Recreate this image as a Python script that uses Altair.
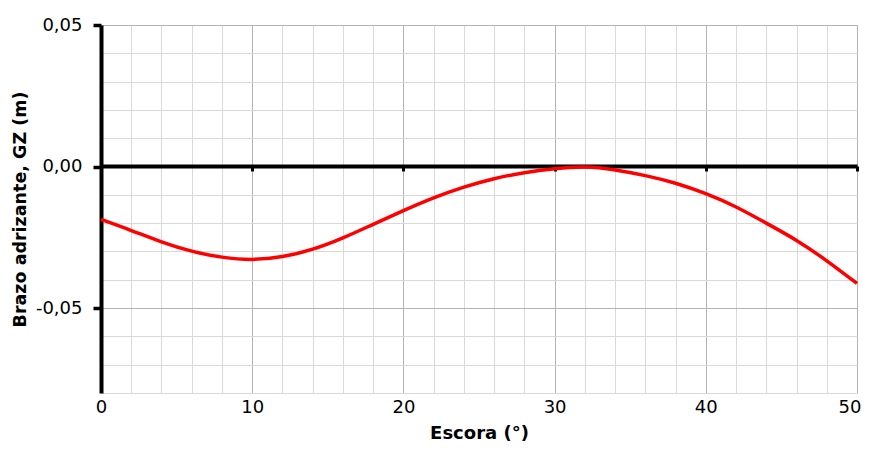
import altair as alt
import pandas as pd

# Data
escora = [0, 2, 4, 6, 8, 10, 12, 14, 16, 18, 20, 22, 24, 26, 28, 30,
          32, 34, 36, 38, 40, 42, 44, 46, 48, 50]
gz = [-0.0187, -0.0226, -0.0266, -0.0299, -0.0320, -0.0328, -0.0318, -0.0292,
      -0.0252, -0.0204, -0.0156, -0.0111, -0.0073, -0.0043, -0.0022, -0.0008,
      -0.0002, -0.0012, -0.0032, -0.0059, -0.0096, -0.0143, -0.0200, -0.0261,
      -0.0333, -0.0413]

x_ticks = [0, 2, 4, 6, 8, 10, 12, 14, 16, 18, 20, 22, 24, 26, 28, 30, 32, 34,
           36, 38, 40, 42, 44, 46, 48, 50]
y_ticks = [-0.08, -0.07, -0.06, -0.05, -0.04, -0.03, -0.02, -0.01, 0.0,
           0.01, 0.02, 0.03, 0.04, 0.05]
x_major = [0, 10, 20, 30, 40, 50]

df = pd.DataFrame({"escora": escora, "gz": gz})

FONT = "DejaVu Sans"
MINOR = "#d9d9d9"
MAJOR = "#b3b3b3"

x_major_test = "datum.value % 10 === 0"
y_major_test = "(abs(datum.value) < 0.0001 || abs(abs(datum.value) - 0.05) < 0.0001)"
x_last_test = "datum.value === 50"

x_scale = alt.Scale(domain=[0, 50], nice=False, zero=False)
y_scale = alt.Scale(domain=[-0.08, 0.05], nice=False, zero=False)

y_axis = alt.Axis(
    orient="left", values=y_ticks, title="Brazo adrizante, GZ (m)",
    labelExpr=y_major_test + " ? replace(replace(format(datum.value, '.2f'), '.', ','), '\u2212', '-') : ''",
    labelFont=FONT, labelFontSize=18, labelColor="black",
    labelPadding=11, labelFlush=False, labelOverlap=False,
    titleFont=FONT, titleFontSize=17.5, titleFontWeight="bold",
    titleColor="black", titlePadding=6,
    ticks=True, tickSize=8, tickWidth=3.5,
    tickColor={"condition": {"test": y_major_test, "value": "black"}, "value": "transparent"},
    domain=True, domainColor="black", domainWidth=4,
    grid=True,
    gridColor={"condition": {"test": y_major_test, "value": MAJOR}, "value": MINOR},
    gridWidth=1)

base = alt.Chart(df)

line = base.mark_line(color="#ff0000", strokeWidth=3.5, interpolate="natural").encode(
    x=alt.X("escora:Q", scale=x_scale,
            axis=alt.Axis(
                orient="bottom", values=x_ticks, title="Escora (°)",
                labelExpr="datum.value % 10 === 0 ? datum.label : ''",
                labelFont=FONT, labelFontSize=18, labelColor="black",
                labelPadding=5, labelFlush=False, labelOverlap=False,
                labelAlign={"condition": {"test": x_last_test, "value": "right"}, "value": "center"},
                labelOffset={"condition": {"test": x_last_test, "value": 4}, "value": 0},
                titleFont=FONT, titleFontSize=18, titleFontWeight="bold",
                titleColor="black", titlePadding=8,
                ticks=False, domain=False, grid=True,
                gridColor={"condition": {"test": x_major_test, "value": MAJOR}, "value": MINOR},
                gridWidth=1)),
    y=alt.Y("gz:Q", scale=y_scale, axis=y_axis),
)

zero_axis = base.mark_line(opacity=0).encode(
    x=alt.X("escora:Q", scale=x_scale,
            axis=alt.Axis(
                orient="bottom", values=x_major, offset=-227, title=None,
                labels=False, grid=False,
                ticks=True, tickSize=5, tickWidth=3, tickColor="black",
                domain=True, domainColor="black", domainWidth=4)),
    y=alt.Y("gz:Q", scale=y_scale, axis=y_axis),
)

chart = alt.layer(line, zero_axis).resolve_axis(x="independent").properties(
    width=756, height=368,
    autosize=alt.AutoSizeParams(type="none"),
    padding={"left": 93, "top": 17, "right": 4, "bottom": 49},
).configure_view(stroke=None)

chart.save("out.html", embed_options={"renderer": "svg", "actions": False})
